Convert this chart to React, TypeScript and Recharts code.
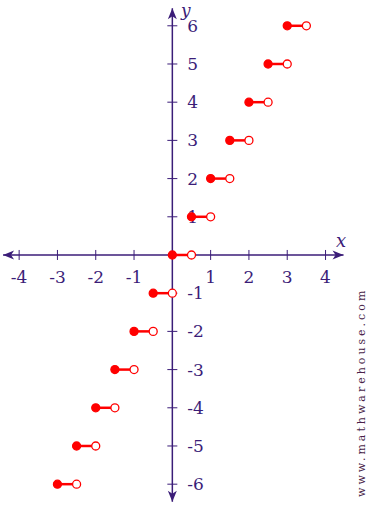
import React from 'react';
import { ScatterChart, Scatter, XAxis, YAxis, ReferenceLine, ReferenceDot } from 'recharts';

const AXIS = '#3b1d78';
const RED = '#ff0000';
const FONT = 'DejaVu Serif';

// each step: filled dot at start, open dot at end, at height level
const levels = [-6, -5, -4, -3, -2, -1, 0, 1, 2, 3, 4, 5, 6];
const starts = [-3, -2.5, -2, -1.5, -1, -0.5, 0, 0.5, 1, 1.5, 2, 2.5, 3];
const ends = [-2.5, -2, -1.5, -1, -0.5, 0, 0.5, 1, 1.5, 2, 2.5, 3, 3.5];

const xTicks = [-4, -3, -2, -1, 1, 2, 3, 4];
const yTicks = [-6, -5, -4, -3, -2, -1, 1, 2, 3, 4, 5, 6];

const steps = levels.map((k, i) => [
  { x: starts[i], y: k, kind: 'closed' },
  { x: ends[i], y: k, kind: 'open' },
]);

const xTickData = xTicks.map(v => ({ x: v, y: 0, label: String(v) }));
const yTickData = yTicks.map(v => ({ x: 0, y: v, label: String(v) }));

const StepDot = (props: any) => {
  const { cx, cy, payload } = props;
  const open = payload.kind === 'open';
  return (
    <circle
      cx={cx}
      cy={cy}
      r={4}
      fill={open ? '#fff' : RED}
      stroke={RED}
      strokeWidth={1.3}
    />
  );
};

const XTick = (props: any) => {
  const { cx, cy, payload } = props;
  return (
    <g>
      <line x1={cx} y1={cy - 5} x2={cx} y2={cy + 5} stroke={AXIS} strokeWidth={1} />
      <text x={cx} y={cy + 28} textAnchor="middle" fontFamily={FONT} fontSize={17} fill={AXIS}>
        {payload.label}
      </text>
    </g>
  );
};

const YTick = (props: any) => {
  const { cx, cy, payload } = props;
  return (
    <g>
      <line x1={cx - 5} y1={cy} x2={cx + 5} y2={cy} stroke={AXIS} strokeWidth={1} />
      <text x={cx + 15} y={cy + 6} textAnchor="start" fontFamily={FONT} fontSize={17} fill={AXIS}>
        {payload.label}
      </text>
    </g>
  );
};

const arrow = (dir: 'left' | 'right' | 'up' | 'down') => (props: any) => {
  const { cx, cy } = props;
  const L = 11;
  const W = 4.5;
  let pts = '';
  if (dir === 'left') pts = `${cx},${cy} ${cx + L},${cy - W} ${cx + L - 3},${cy} ${cx + L},${cy + W}`;
  if (dir === 'right') pts = `${cx},${cy} ${cx - L},${cy - W} ${cx - L + 3},${cy} ${cx - L},${cy + W}`;
  if (dir === 'up') pts = `${cx},${cy} ${cx - W},${cy + L} ${cx},${cy + L - 3} ${cx + W},${cy + L}`;
  if (dir === 'down') pts = `${cx},${cy} ${cx - W},${cy - L} ${cx},${cy - L + 3} ${cx + W},${cy - L}`;
  return <polygon points={pts} fill={AXIS} />;
};

const App = () => {
  return (
    <div style={{ position: 'absolute', left: 0, top: 0, width: 369, height: 505, background: '#fff', overflow: 'hidden' }}>
      <ScatterChart width={369} height={505} margin={{ top: 0, right: 0, bottom: 0, left: 0 }}>
        <XAxis type="number" dataKey="x" domain={[-4.5, 5.135]} allowDataOverflow hide />
        <YAxis type="number" dataKey="y" domain={[-6.545, 6.675]} allowDataOverflow hide />
        <ReferenceLine
          segment={[{ x: -4.42, y: 0 }, { x: 4.47, y: 0 }]}
          stroke={AXIS}
          strokeWidth={1.5}
        />
        <ReferenceLine
          segment={[{ x: 0, y: 6.46 }, { x: 0, y: -6.46 }]}
          stroke={AXIS}
          strokeWidth={1.5}
        />
        <ReferenceDot x={-4.42} y={0} shape={arrow('left')} />
        <ReferenceDot x={4.47} y={0} shape={arrow('right')} />
        <ReferenceDot x={0} y={6.46} shape={arrow('up')} />
        <ReferenceDot x={0} y={-6.46} shape={arrow('down')} />
        <Scatter data={xTickData} shape={XTick} isAnimationActive={false} />
        <Scatter data={yTickData} shape={YTick} isAnimationActive={false} />
        {steps.map((seg, i) => (
          <Scatter
            key={i}
            data={seg}
            line={{ stroke: RED, strokeWidth: 2.5 }}
            shape={StepDot}
            isAnimationActive={false}
          />
        ))}
      </ScatterChart>
      <div
        style={{
          position: 'absolute',
          left: 336,
          top: 231,
          fontFamily: FONT,
          fontStyle: 'italic',
          fontSize: 18,
          lineHeight: '20px',
          color: AXIS,
        }}
      >
        x
      </div>
      <div
        style={{
          position: 'absolute',
          left: 181,
          top: 1,
          fontFamily: FONT,
          fontStyle: 'italic',
          fontSize: 17,
          lineHeight: '18px',
          color: AXIS,
        }}
      >
        y
      </div>
      <div
        style={{
          position: 'absolute',
          left: 356,
          top: 497,
          transform: 'rotate(-90deg)',
          transformOrigin: '0 0',
          whiteSpace: 'nowrap',
          fontFamily: FONT,
          fontSize: 11,
          letterSpacing: 3,
          color: '#4a1f4a',
          lineHeight: '12px',
        }}
      >
        www.mathwarehouse.com
      </div>
    </div>
  );
};

export default App;
